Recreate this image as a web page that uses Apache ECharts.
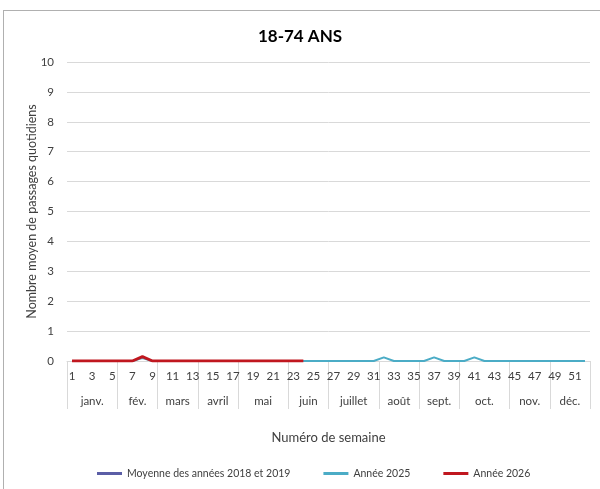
<!DOCTYPE html>
<html>
<head>
<meta charset="utf-8">
<script src="https://cdn.jsdelivr.net/npm/echarts@6/dist/echarts.min.js"></script>
<style>
  html, body { margin: 0; padding: 0; background: #fff; }
  .frame {
    position: absolute; left: 3px; top: 10px; width: 700px; height: 600px;
    border-left: 1px solid #b0b0b0; border-top: 1px solid #b0b0b0;
  }
  #chart { position: absolute; left: 0; top: 0; width: 600px; height: 489px; }
</style>
</head>
<body>
<div class="frame"></div>
<div id="chart"></div>
<script>
// semaines 1..52
const weeks = [];
for (let i = 1; i <= 52; i++) weeks.push(String(i));

const months = ["janv.", "fév.", "mars", "avril", "mai", "juin", "juillet", "août", "sept.", "oct.", "nov.", "déc."];
const monthWeeks = [5, 4, 4, 4, 5, 4, 5, 4, 4, 5, 4, 4];

// pas de valeurs visibles pour la moyenne 2018-2019
const moyenne2018_2019 = [];
const annee2025 = [
  0, 0, 0, 0, 0, 0, 0, 0.1, 0, 0, 0, 0, 0,
  0, 0, 0, 0, 0, 0, 0, 0, 0, 0, 0, 0, 0,
  0, 0, 0, 0, 0, 0.12, 0, 0, 0, 0, 0.12, 0, 0,
  0, 0.12, 0, 0, 0, 0, 0, 0, 0, 0, 0, 0, 0
];
const annee2026 = [
  0, 0, 0, 0, 0, 0, 0, 0.15, 0, 0, 0, 0,
  0, 0, 0, 0, 0, 0, 0, 0, 0, 0, 0, 0
];

// axe des mois en demi-semaines (0..104)
const halfLabels = [];
for (let k = 0; k <= 104; k++) halfLabels.push("");
const boundaries = new Set([0]);
const centers = new Set();
let start = 0;
months.forEach((m, i) => {
  const c = start * 2 + monthWeeks[i];
  halfLabels[c] = m;
  centers.add(c);
  start += monthWeeks[i];
  boundaries.add(start * 2);
});

const FONT = "Lato, 'Open Sans', sans-serif";
const chart = echarts.init(document.getElementById("chart"));
chart.setOption({
  animation: false,
  textStyle: { fontFamily: FONT },
  title: {
    text: "18-74 ANS",
    left: "center",
    top: 23,
    textStyle: { fontSize: 17, fontWeight: "bold", color: "#000", fontFamily: FONT }
  },
  grid: { left: 67, right: 10, top: 62, bottom: 128 },
  xAxis: [
    {
      type: "category",
      data: weeks,
      boundaryGap: true,
      name: "Numéro de semaine",
      nameLocation: "middle",
      nameGap: 70,
      nameTextStyle: { fontSize: 13, color: "#404040" },
      axisLine: { lineStyle: { color: "#d9d9d9" } },
      axisTick: { show: false },
      axisLabel: { interval: 1, fontSize: 11.5, color: "#404040", margin: 9 }
    },
    {
      type: "category",
      data: halfLabels,
      boundaryGap: false,
      position: "bottom",
      axisLine: { show: false },
      axisTick: {
        show: true,
        length: 48,
        interval: (i) => boundaries.has(i),
        lineStyle: { color: "#d9d9d9" }
      },
      axisLabel: {
        interval: (i) => centers.has(i),
        fontSize: 11.5,
        color: "#404040",
        margin: 34
      }
    }
  ],
  yAxis: {
    type: "value",
    min: 0,
    max: 10,
    interval: 1,
    name: "Nombre moyen de passages quotidiens",
    nameLocation: "middle",
    nameGap: 29,
    nameMoveOverlap: false,
    nameTextStyle: { fontSize: 12.5, color: "#404040" },
    axisLine: { show: false },
    axisTick: { show: false },
    axisLabel: { fontSize: 11.5, color: "#404040", margin: 13 },
    splitLine: { lineStyle: { color: "#d9d9d9" } }
  },
  legend: {
    bottom: 5,
    left: 92,
    icon: "rect",
    itemWidth: 25,
    itemHeight: 3,
    itemGap: 33,
    textStyle: { fontSize: 10.5, color: "#404040" },
    data: [
      { name: "Moyenne des années 2018 et 2019", itemStyle: { color: "#5b5ea6" } },
      { name: "Année 2025", itemStyle: { color: "#4bacc6" } },
      { name: "Année 2026", itemStyle: { color: "#c0171f" } }
    ]
  },
  series: [
    {
      name: "Moyenne des années 2018 et 2019",
      type: "line",
      data: moyenne2018_2019,
      symbol: "none",
      color: "#5b5ea6",
      lineStyle: { width: 2, color: "#5b5ea6" },
      z: 2
    },
    {
      name: "Année 2025",
      type: "line",
      data: annee2025,
      symbol: "none",
      color: "#4bacc6",
      lineStyle: { width: 2, color: "#4bacc6" },
      z: 3
    },
    {
      name: "Année 2026",
      type: "line",
      data: annee2026,
      symbol: "none",
      color: "#c0171f",
      lineStyle: { width: 3, color: "#c0171f" },
      z: 4
    }
  ]
});
</script>
</body>
</html>
